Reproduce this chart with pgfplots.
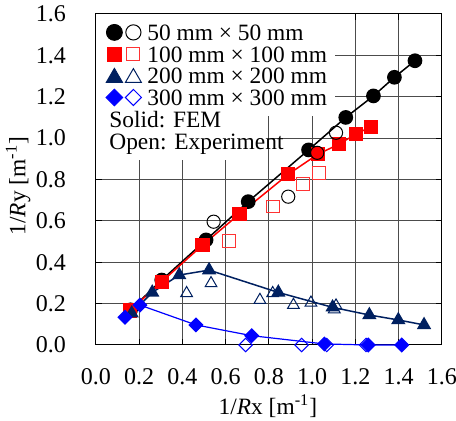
\documentclass[border=0pt]{standalone}
\usepackage{fontspec}
\setmainfont{Liberation Serif}
\usepackage{pgfplots}
\pgfplotsset{compat=1.18}
\definecolor{navy}{RGB}{0,32,96}
\definecolor{pblue}{RGB}{0,0,255}

\newcommand{\legbox}{\path[draw=none, fill=none] (0pt,-1pt) rectangle (25.5pt,3pt);}

\begin{document}
\fontsize{11.7}{13}\selectfont
\begin{tikzpicture}
\useasboundingbox (-48pt,-38pt) rectangle (180pt,172.5pt);
\begin{axis}[scale only axis, width=173pt, height=165.5pt,
  at={(0,0)}, anchor=south west, clip=false,
  xmin=0, xmax=1.6, ymin=0, ymax=1.6,
  xtick={0,0.2,0.4,0.6,0.8,1.0,1.2,1.4,1.6},
  ytick={0,0.2,0.4,0.6,0.8,1.0,1.2,1.4,1.6},
  grid=major, major grid style={black!70, line width=0.5pt},
  axis line style={line width=0.5pt},
  tick style={black, line width=0.5pt}, tick align=inside, major tick length=3pt,
  tick label style={font=\fontsize{12}{13}\selectfont},
  xticklabel style={yshift=-7.5pt},
  yticklabel style={xshift=-11pt},
  label style={font=\fontsize{11.7}{13}\selectfont},
  xlabel={1/\textit{R}x [m\textsuperscript{-1}]},
  ylabel={1/\textit{R}y [m\textsuperscript{-1}]},
  xlabel style={at={(axis description cs:0.497,-0.185)}, anchor=center},
  ylabel style={at={(axis description cs:-0.225,0.48)}, anchor=center},
  legend cell align=left,
  legend style={at={(rel axis cs:0,1)}, anchor=north west, yshift=-5pt,
    draw=none, fill=none, inner sep=0pt, column sep=0pt, row sep=2.85pt,
    font=\fontsize{11.7}{13}\selectfont,
    nodes={inner sep=0pt, text height=8pt, text depth=0pt}},
  /pgf/number format/fixed, /pgf/number format/fixed zerofill,
  /pgf/number format/precision=1, /pgf/number format/assume math mode=true,
]
% white areas behind legend and note
\fill[white] (axis cs:0,1.105) rectangle (axis cs:1.105,1.6);
\fill[white] (axis cs:0,0.894) rectangle (axis cs:0.795,1.106);
% 50 x 50
\addplot[black, line width=0.75pt, mark=*, mark size=3.3pt, forget plot] coordinates {
(0.16,0.17)(0.304,0.314)(0.509,0.508)(0.704,0.693)(0.983,0.943)(1.155,1.100)(1.283,1.204)(1.380,1.294)(1.475,1.374)};
% 100 x 100
\addplot[red, line width=0.75pt, mark=square*, mark size=3.2pt, forget plot] coordinates {
(0.157,0.166)(0.304,0.306)(0.493,0.483)(0.663,0.633)(0.889,0.825)(1.027,0.923)(1.125,0.971)(1.202,1.020)(1.272,1.055)};
% 200 x 200
\addplot[navy, line width=0.75pt, mark=triangle*, mark size=3.4pt, forget plot] coordinates {
(0.165,0.153)(0.260,0.254)(0.385,0.338)(0.523,0.362)(0.843,0.254)(1.094,0.182)(1.264,0.145)(1.398,0.121)(1.517,0.097)};
% 300 x 300
\addplot[pblue, line width=0.6pt, mark=square*, mark size=2.37pt, mark options={rotate=45}, forget plot] coordinates {
(0.134,0.134)(0.203,0.193)(0.462,0.097)(0.720,0.045)(1.056,0.005)(1.259,0.0)(1.414,0.0)};
% experiments
\addplot[black, only marks, mark=o, mark size=3.3pt, mark options={line width=0.5pt}, forget plot] coordinates {
(0.544,0.596)(0.889,0.717)(1.023,0.929)(1.110,1.026)};
\addplot[red!80, only marks, mark=square, mark size=3.2pt, mark options={line width=0.5pt}, forget plot] coordinates {
(0.615,0.504)(0.817,0.669)(0.959,0.778)(1.030,0.833)};
\addplot[navy, only marks, mark=triangle, mark size=3.4pt, mark options={line width=0.5pt}, forget plot] coordinates {
(0.419,0.250)(0.532,0.298)(0.758,0.217)(0.817,0.250)(0.913,0.193)(0.994,0.204)(1.102,0.172)(1.110,0.190)};
\addplot[pblue, only marks, mark=square, mark size=2.37pt, mark options={rotate=45, line width=0.5pt}, forget plot] coordinates {
(0.692,0.0)(0.951,0.0)(1.067,0.0)(1.249,0.0)};

\addlegendimage{legend image code/.code={
  \pgfinterruptboundingbox
  \fill[black] (9pt,0) circle (4pt);
  \draw[black, line width=0.5pt] (18.5pt,0) circle (3.8pt);
  \endpgfinterruptboundingbox
  \legbox}}
\addlegendentry{50 mm × 50 mm}
\addlegendimage{legend image code/.code={
  \pgfinterruptboundingbox
  \fill[red] (5.5pt,-3.5pt) rectangle (12.5pt,3.5pt);
  \draw[red!80, line width=0.5pt] (15.2pt,-3.3pt) rectangle (21.8pt,3.3pt);
  \endpgfinterruptboundingbox
  \legbox}}
\addlegendentry{100 mm × 100 mm}
\addlegendimage{legend image code/.code={
  \pgfinterruptboundingbox
  \path plot[mark=triangle*, mark size=4.8pt, mark options={navy, fill=navy}] coordinates {(9pt,-1pt)};
  \path plot[mark=triangle, mark size=4.6pt, mark options={navy, line width=0.5pt}] coordinates {(18.5pt,-1pt)};
  \endpgfinterruptboundingbox
  \legbox}}
\addlegendentry{200 mm × 200 mm}
\addlegendimage{legend image code/.code={
  \pgfinterruptboundingbox
  \path plot[mark=square*, mark size=2.95pt, mark options={pblue, fill=pblue, rotate=45}] coordinates {(9pt,0pt)};
  \path plot[mark=square, mark size=2.85pt, mark options={pblue, line width=0.5pt, rotate=45}] coordinates {(18.5pt,0pt)};
  \endpgfinterruptboundingbox
  \legbox}}
\addlegendentry{300 mm × 300 mm}

\node[anchor=base west, inner sep=0pt, font=\fontsize{11.7}{13}\selectfont] at (axis cs:0.060,1.050) {Solid: FEM};
\node[anchor=base west, inner sep=0pt, font=\fontsize{11.7}{13}\selectfont] at (axis cs:0.060,0.943) {Open: Experiment};
\end{axis}
\end{tikzpicture}
\end{document}
